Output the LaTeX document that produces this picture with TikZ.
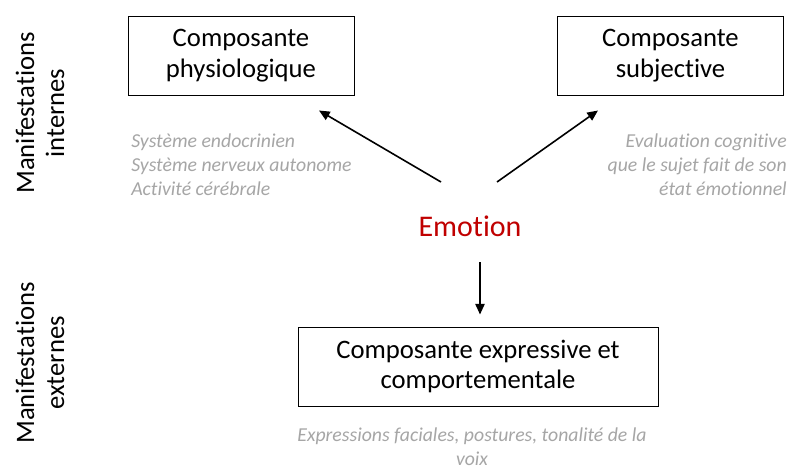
\documentclass[tikz,border=0pt]{standalone}
\usepackage{fontspec}
\setmainfont{Carlito}[Ligatures=NoCommon]
\usepackage{xcolor}
\usepackage{tikz}
\usetikzlibrary{calc,arrows.meta}
\definecolor{bg}{HTML}{FFFFFF}
\definecolor{text}{HTML}{000000}
\definecolor{muted}{HTML}{A6A6A6}
\definecolor{emored}{HTML}{C00000}
\tikzset{
  box/.style={draw=text, line width=0.75pt, minimum width=169.5pt, minimum height=59.25pt, inner sep=0pt, align=center, font=\fontsize{20}{23}\selectfont},
  arr/.style={draw=text, line width=1.2pt, -{Triangle[length=8pt,width=7pt]}},
  side/.style={rotate=90, align=center, inner sep=0pt, text=text, font=\fontsize{20}{22.5}\selectfont},
  note/.style={text=muted, inner sep=0pt, font=\itshape\fontsize{14.8}{18}\selectfont},
}

\begin{document}
\begin{tikzpicture}[x=0.75pt, y=-0.75pt]
  \fill[bg] (0,0) rectangle (788,468);
  \useasboundingbox (0,0) rectangle (788,468);
  % side labels
  \node[side] (intern) at (40,113) {Manifestations\\internes};
  \node[side] (extern) at (40,363) {Manifestations\\externes};
  % components
  \node[box] (phys) at (241,55.5) {Composante\\physiologique};
  \node[box] (subj) at (670.5,55.5) {Composante\\subjective};
  \node[box, minimum width=270pt] (expr) at (478,366.5) {Composante expressive et\\comportementale};
  \node[text=emored, inner sep=0pt, font=\fontsize{22.5}{27}\selectfont] (emo) at (470,226) {Emotion};
  % notes (base = last line)
  \node[note, anchor=base west, align=left] (physn) at (131,195) {Système endocrinien\\Système nerveux autonome\\Activité cérébrale};
  \node[note, anchor=base east, align=right] (subjn) at (787,195) {Evaluation cognitive\\que le sujet fait de son\\état émotionnel};
  \node[note, anchor=base, align=center] (exprn) at (472,465) {Expressions faciales, postures, tonalité de la\\voix};
  % arrows
  \draw[arr] ($(emo.center)+(-29,-44)$) -- ($(phys.south)+(78,15)$);
  \draw[arr] ($(emo.center)+(27,-44)$) -- ($(subj.south)+(-72.5,15)$);
  \draw[arr] ($(emo.center)+(10,36)$) -- ($(expr.north)+(2,-12)$);
\end{tikzpicture}
\end{document}
